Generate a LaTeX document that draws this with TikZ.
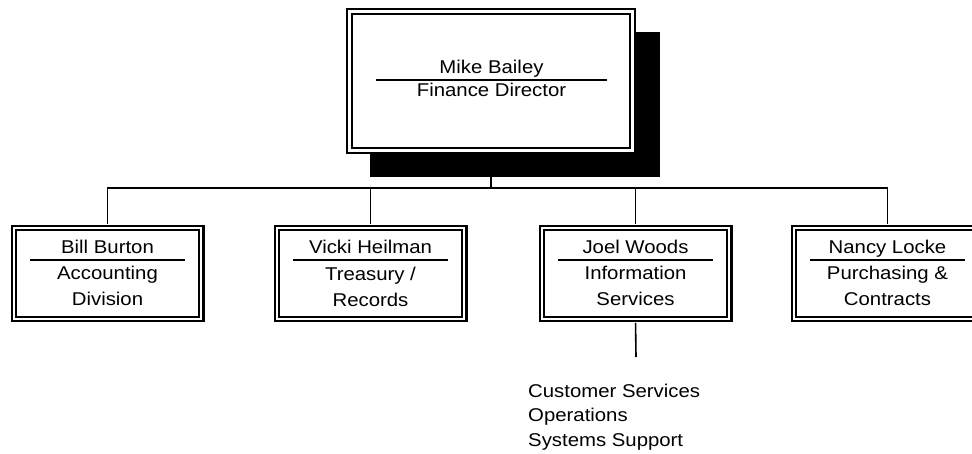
\documentclass[tikz,border=0pt]{standalone}
\usepackage{fontspec}
\setmainfont{Liberation Sans}[FakeStretch=1.1]
\usepackage{tikz}
\usetikzlibrary{positioning}

\begin{document}
\begin{tikzpicture}[x=1pt,y=-1pt,
  chief/.style={draw,fill=white,line width=2.4pt,double,double distance=2.4pt,minimum width=282.8pt,minimum height=138.8pt,inner sep=0pt},
  unit/.style={draw,fill=white,line width=2.1pt,double,double distance=2.1pt,minimum width=187.7pt,minimum height=90.7pt,inner sep=0pt},
  lbl/.style={font=\fontsize{18.5}{26}\selectfont,inner sep=0pt,anchor=base,align=center},
  rule/.style={line width=1.6pt},
  conn/.style={line width=1.6pt}]
\clip(0,0)rectangle(972,454);
% director with shadow
\fill(370,32)rectangle(660,177);
\node[chief](boss)at(491,81){};
\node[lbl](bossname)at(491.5,74){Mike Bailey};
\draw[rule](376,80)--(607,80);
\node[lbl](bosstitle)at(491.5,97){Finance Director};
% divisions
\node[unit](bill)at(107.5,273.5){};
\node[lbl](billname)at(107.5,254){Bill Burton};
\draw[rule](30,260)--(185,260);
\node[lbl](billjob)at(107.5,306){Accounting\\Division};
\node[unit](vicki)at(370.5,273.5){};
\node[lbl](vickiname)at(370.5,254){Vicki Heilman};
\draw[rule](293,260)--(448,260);
\node[lbl](vickijob)at(370.5,306.5){Treasury /\\Records};
\node[unit](joel)at(635.5,273.5){};
\node[lbl](joelname)at(635.5,254){Joel Woods};
\draw[rule](558,260)--(713,260);
\node[lbl](joeljob)at(635.5,306){Information\\Services};
\node[unit](nancy)at(887.5,273.5){};
\node[lbl](nancyname)at(887.5,254){Nancy Locke};
\draw[rule](810,260)--(965,260);
\node[lbl](nancyjob)at(887.5,306){Purchasing \&\\Contracts};
% connectors
\coordinate(bar)at(491,188);
\draw[conn,shorten <=3pt,shorten >=3pt](boss.south)--(bar)-|(bill.north);
\draw[conn,shorten >=3pt](bar)-|(vicki.north);
\draw[conn,shorten >=3pt](bar)-|(joel.north);
\draw[conn,shorten >=3pt](bar)-|(nancy.north);
\coordinate(joellist)at(636,357);
\draw[conn,shorten <=3pt](joel.south)--(joellist);
\node[lbl,anchor=base west,align=left,font=\fontsize{18.5}{24.5}\selectfont](joelteams)at(528,446){Customer Services\\Operations\\Systems Support};
\end{tikzpicture}
\end{document}
